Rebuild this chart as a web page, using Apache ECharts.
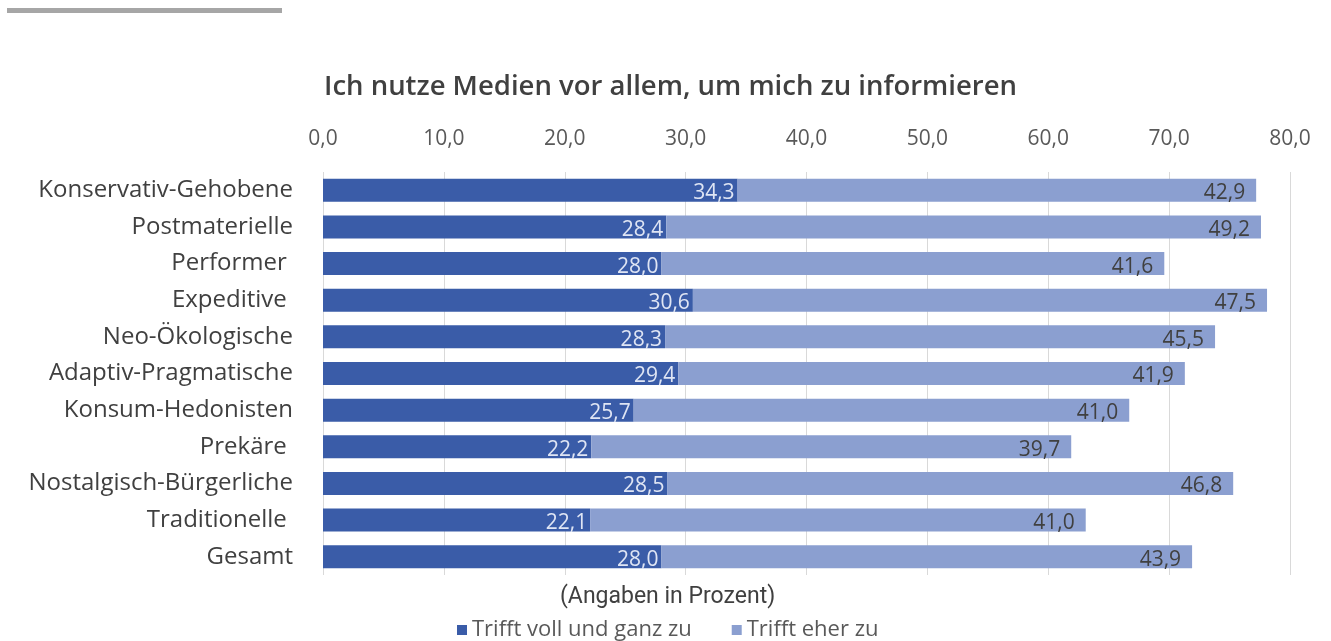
<!DOCTYPE html>
<html>
<head>
<meta charset="utf-8">
<script src="https://cdn.jsdelivr.net/npm/echarts@6/dist/echarts.min.js"></script>
<style>
  html, body { margin: 0; padding: 0; background: #fff; }
  #chart { width: 1331px; height: 641px; }
</style>
</head>
<body>
<div id="chart"></div>
<script>
// Labels keep the trailing blanks of the source sheet
const categories = [
  'Konservativ-Gehobene', 'Postmaterielle', 'Performer ', 'Expeditive ',
  'Neo-Ökologische', 'Adaptiv-Pragmatische', 'Konsum-Hedonisten', 'Prekäre ',
  'Nostalgisch-Bürgerliche', 'Traditionelle ', 'Gesamt'
];
const trifftVoll = [34.3, 28.4, 28.0, 30.6, 28.3, 29.4, 25.7, 22.2, 28.5, 22.1, 28.0];
const trifftEher = [42.9, 49.2, 41.6, 47.5, 45.5, 41.9, 41.0, 39.7, 46.8, 41.0, 43.9];
const axisTicks = [0, 10, 20, 30, 40, 50, 60, 70, 80];

const font = 'Open Sans';
const fmt = v => Number(v).toFixed(1).replace('.', ',');

const chart = echarts.init(document.getElementById('chart'), null, { renderer: 'canvas' });

const option = {
  animation: false,
  textStyle: { fontFamily: font },
  title: {
    text: 'Ich nutze Medien vor allem, um mich zu informieren',
    left: 319,
    top: 68,
    textStyle: { fontFamily: font, fontSize: 27.5, fontWeight: 600, color: '#404040' }
  },
  graphic: [{
    type: 'rect',
    shape: { x: 7, y: 8, width: 275, height: 5 },
    style: { fill: '#a6a6a6' }
  }, {
    type: 'text',
    left: 560,
    top: 586,
    style: { text: '(Angaben in Prozent)', font: '23px "Roboto"', fill: '#404040' }
  }],
  legend: {
    top: 614,
    left: 452,
    itemWidth: 10,
    itemHeight: 10,
    itemGap: 40,
    icon: 'rect',
    textStyle: { fontFamily: font, fontSize: 22, color: '#595959' },
    data: ['Trifft voll und ganz zu', 'Trifft eher zu']
  },
  grid: { left: 323, right: 41, top: 172, bottom: 66 },
  xAxis: {
    type: 'value',
    position: 'top',
    min: axisTicks[0],
    max: axisTicks[axisTicks.length - 1],
    interval: 10,
    axisLine: { show: false },
    axisTick: { show: false },
    axisLabel: { formatter: fmt, color: '#595959', fontSize: 21, margin: 22 },
    splitLine: { lineStyle: { color: '#d9d9d9', width: 1 } }
  },
  yAxis: {
    type: 'category',
    inverse: true,
    data: categories,
    axisLine: { show: false },
    axisTick: { show: false },
    axisLabel: { color: '#404040', fontSize: 24, margin: 30 }
  },
  series: [{
    name: 'Trifft voll und ganz zu',
    type: 'bar',
    stack: 'total',
    barWidth: 23,
    data: trifftVoll,
    itemStyle: { color: '#3a5ca8' },
    label: {
      show: true, position: 'insideRight', distance: 3, offset: [0, 3],
      formatter: p => fmt(p.value), color: '#dfe5f4', fontSize: 21
    }
  }, {
    name: 'Trifft eher zu',
    type: 'bar',
    stack: 'total',
    barWidth: 23,
    data: trifftEher,
    itemStyle: { color: '#8b9fd0' },
    label: {
      show: true, position: 'insideRight', distance: 11, offset: [0, 3],
      formatter: p => fmt(p.value), color: '#404040', fontSize: 21
    }
  }]
};

chart.setOption(option);
window.addEventListener('resize', chart.resize);
</script>
</body>
</html>
